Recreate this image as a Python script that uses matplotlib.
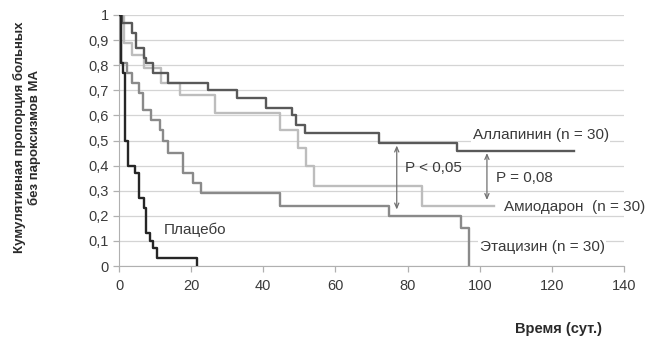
import matplotlib
matplotlib.use("Agg")
import matplotlib.pyplot as plt
from matplotlib.ticker import FuncFormatter

plt.rcParams['font.family'] = ['Liberation Sans', 'DejaVu Sans']

# step curves: time (days) -> cumulative proportion
alla_t = [0, 0.8, 3.7, 4.6, 6.8, 7.4, 9.5, 13.7, 24.6, 32.7, 40.8, 48.0, 49.2, 51.7, 72.0, 93.8, 126]
alla_v = [1, 0.97, 0.93, 0.87, 0.83, 0.81, 0.77, 0.73, 0.70, 0.67, 0.63, 0.60, 0.56, 0.53, 0.49, 0.46, 0.46]

amio_t = [0, 1.4, 3.7, 6.8, 11.7, 16.8, 26.7, 44.7, 49.5, 51.9, 54.0, 84.1, 104]
amio_v = [1, 0.89, 0.84, 0.79, 0.73, 0.68, 0.61, 0.54, 0.47, 0.40, 0.32, 0.24, 0.24]

etac_t = [0, 0.5, 2.1, 3.5, 5.6, 6.6, 8.8, 11.4, 12.3, 13.7, 17.7, 20.5, 22.7, 44.7, 74.8, 94.8, 97.0]
etac_v = [1, 0.81, 0.77, 0.73, 0.69, 0.62, 0.58, 0.54, 0.50, 0.45, 0.37, 0.33, 0.29, 0.24, 0.20, 0.15, 0]

plac_t = [0, 0.6, 1.0, 1.7, 2.6, 4.4, 5.6, 6.8, 7.4, 8.6, 9.5, 10.6, 21.7]
plac_v = [1, 0.81, 0.77, 0.50, 0.40, 0.37, 0.27, 0.23, 0.13, 0.10, 0.07, 0.03, 0]

labels = ["Аллапинин (n = 30)", "Амиодарон  (n = 30)", "Этацизин (n = 30)", "Плацебо"]
x_ticks = [0, 20, 40, 60, 80, 100, 120, 140]
y_ticks = [0, 0.1, 0.2, 0.3, 0.4, 0.5, 0.6, 0.7, 0.8, 0.9, 1]

fig = plt.figure(figsize=(6.49, 3.38), dpi=100)
ax = fig.add_axes([119 / 649, 1 - 266 / 338, 505 / 649, 251 / 338])

ax.step(amio_t, amio_v, where='post', color='#bdbdbd', lw=1.7, zorder=3)
ax.step(etac_t, etac_v, where='post', color='#8a8a8a', lw=1.7, zorder=4)
ax.step(alla_t, alla_v, where='post', color='#595959', lw=1.7, zorder=5)
ax.step(plac_t, plac_v, where='post', color='#262626', lw=1.7, zorder=6)

ax.set_xlim(0, 140)
ax.set_ylim(0, 1)
ax.set_xticks(x_ticks)
ax.set_yticks(y_ticks)
ax.yaxis.set_major_formatter(FuncFormatter(lambda v, p: ('%g' % round(v, 1)).replace('.', ',')))
ax.grid(axis='y', color='#d4d4d4', lw=0.9, zorder=0)
for s in ['top', 'right']:
    ax.spines[s].set_visible(False)
for s in ['left', 'bottom']:
    ax.spines[s].set_color('#b0b0b0')
ax.tick_params(colors='#b0b0b0', labelcolor='#3a3a3a', labelsize=10.5, length=4, width=0.9)
ax.tick_params(axis='x', pad=5)

txt = dict(fontsize=11, color='#3a3a3a', va='center', zorder=7,
           bbox=dict(facecolor='white', edgecolor='none', pad=1))
ax.text(98.1, 0.522, labels[0], **txt)
ax.text(106.6, 0.236, labels[1], **txt)
ax.text(100.0, 0.077, labels[2], **txt)
ax.text(12.3, 0.143, labels[3], **txt)
ax.text(79.4, 0.392, "P < 0,05", fontsize=11, color='#3a3a3a', va='center')
ax.text(104.4, 0.349, "P = 0,08", fontsize=11, color='#3a3a3a', va='center')

arrow = dict(arrowstyle='<->,head_length=0.35,head_width=0.15', color='#707070', lw=0.9,
             shrinkA=0, shrinkB=0)
ax.annotate('', xy=(77, 0.48), xytext=(77, 0.225), arrowprops=arrow)
ax.annotate('', xy=(102, 0.45), xytext=(102, 0.263), arrowprops=arrow)

fig.text(27 / 649, 1 - 137 / 338, "Кумулятивная пропорция больных\nбез пароксизмов МА",
         rotation=90, ha='center', va='center', fontsize=9.5, fontweight='bold',
         color='#2a2a2a', multialignment='center', linespacing=1.1)
fig.text(602 / 649, 1 - 329 / 338, "Время (сут.)", ha='right', va='center',
         fontsize=10.5, fontweight='bold', color='#2a2a2a')

fig.savefig('out.png', dpi=100)
